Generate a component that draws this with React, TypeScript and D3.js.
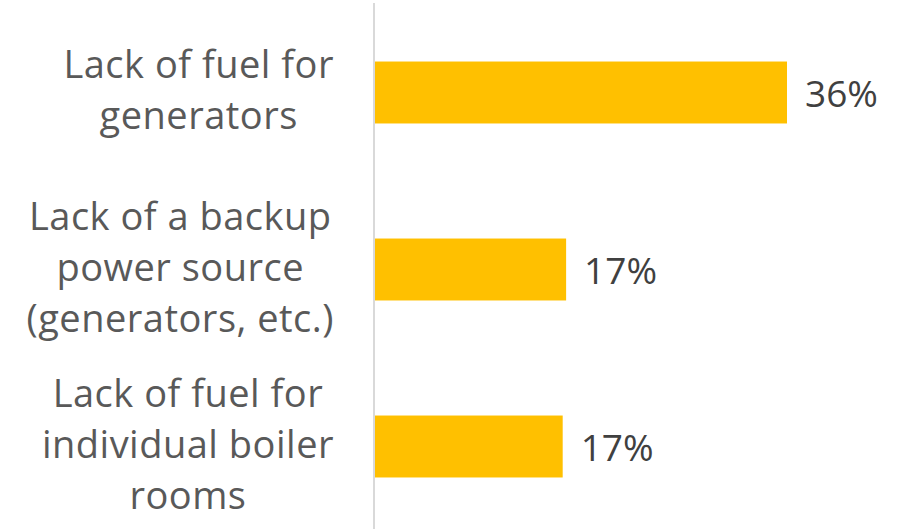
import React, { useEffect, useRef } from "react";
import * as d3 from "d3";

const categories: string[][] = [
  ["Lack of fuel for", "generators"],
  ["Lack of a backup", "power source", "(generators, etc.)"],
  ["Lack of fuel for", "individual boiler", "rooms"],
];
const values: number[] = [36, 16.7, 16.4];
const valueLabels: string[] = ["36%", "17%", "17%"];

const W = 905;
const H = 529;

export default function App() {
  const ref = useRef<SVGSVGElement>(null);

  useEffect(() => {
    const svg = d3.select(ref.current);
    svg.selectAll("*").remove();

    const x = d3.scaleLinear().domain([0, 36]).range([375, 787]);
    const y = d3
      .scaleBand<number>()
      .domain(d3.range(categories.length))
      .range([4, 535])
      .paddingInner(0.65)
      .paddingOuter(0.325);

    const font = "'Open Sans', sans-serif";
    const fs = 37;
    const catFs = 38;
    const lineH = 51;

    // bars
    svg
      .append("g")
      .selectAll("rect")
      .data(values)
      .join("rect")
      .attr("x", x(0))
      .attr("y", (_, i) => y(i)!)
      .attr("width", (d) => x(d) - x(0))
      .attr("height", y.bandwidth())
      .attr("fill", "#FFC000");

    // axis line
    svg
      .append("line")
      .attr("x1", 374)
      .attr("x2", 374)
      .attr("y1", 3)
      .attr("y2", H)
      .attr("stroke", "#d9d9d9")
      .attr("stroke-width", 2);

    // value labels
    svg
      .append("g")
      .selectAll("text")
      .data(values)
      .join("text")
      .attr("x", (d) => x(d) + 18)
      .attr("y", (_, i) => y(i)! + y.bandwidth() / 2 + 14)
      .attr("font-family", font)
      .attr("font-size", fs)
      .attr("fill", "#404040")
      .text((_, i) => valueLabels[i]);

    // category labels
    const rightEdge = 334;
    categories.forEach((lines, i) => {
      const cy = y(i)! + y.bandwidth() / 2;
      const g = svg.append("g");
      const texts = g
        .selectAll("text")
        .data(lines)
        .join("text")
        .attr("y", (_, j) => cy + (j - (lines.length - 1) / 2) * lineH + 11)
        .attr("font-family", font)
        .attr("font-size", catFs)
        .attr("letter-spacing", 0.5)
        .attr("fill", "#595959")
        .attr("text-anchor", "middle")
        .text((d) => d);
      let maxW = 0;
      texts.each(function () {
        maxW = Math.max(maxW, (this as SVGTextElement).getComputedTextLength());
      });
      texts.attr("x", rightEdge - maxW / 2);
    });
  }, []);

  return (
    <svg
      ref={ref}
      width={W}
      height={H}
      style={{ position: "absolute", left: 0, top: 0, background: "#fff" }}
    />
  );
}
